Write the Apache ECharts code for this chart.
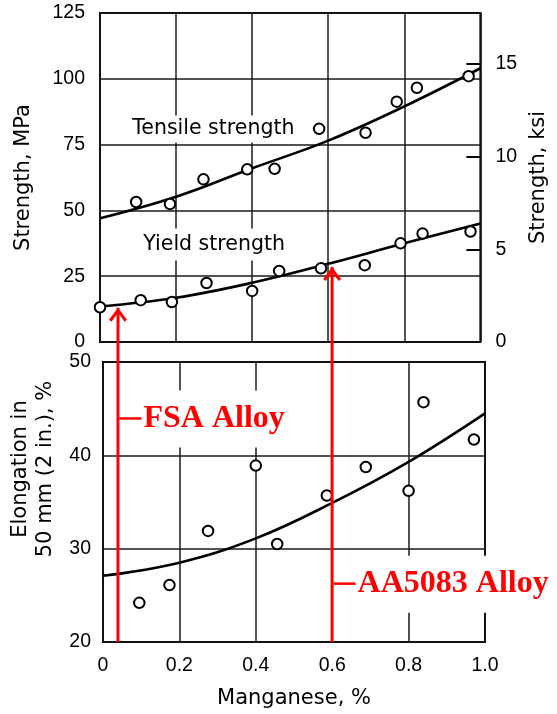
<!DOCTYPE html>
<html>
<head>
<meta charset="utf-8">
<script src="https://cdn.jsdelivr.net/npm/echarts@6/dist/echarts.min.js"></script>
<style>html,body{margin:0;padding:0;background:#fff;}#c{width:557px;height:714px;}</style>
</head>
<body>
<div id="c"></div>
<script>
// ---- data ----
const fitMn       = [0, 0.2, 0.4, 0.6, 0.8, 1.0];
const tensileFit  = [47, 55.2, 66, 76.5, 89.5, 104];
const yieldFit    = [13.5, 16.8, 22.5, 29.7, 37.5, 45];
const elongFit    = [27.1, 28.5, 31.1, 34.9, 39.3, 44.5];

const tensileMn   = [0.095, 0.184, 0.272, 0.387, 0.459, 0.576, 0.698, 0.780, 0.833, 0.969];
const tensileMPa  = [53.2, 52.4, 61.8, 65.6, 65.8, 81, 79.5, 91.3, 96.6, 101];

const yieldMn     = [0.0, 0.107, 0.189, 0.28, 0.40, 0.471, 0.581, 0.696, 0.79, 0.848, 0.974];
const yieldMPa    = [13.2, 15.9, 15.2, 22.4, 19.4, 27, 28, 29.2, 37.5, 41.2, 42];

const elongMn     = [0.095, 0.174, 0.275, 0.40, 0.456, 0.586, 0.688, 0.80, 0.839, 0.971];
const elongPct    = [24.2, 26.1, 31.9, 38.9, 30.5, 35.7, 38.75, 36.2, 45.7, 41.7];

const alloyNames  = ['FSA Alloy', 'AA5083 Alloy'];
const alloyMn     = [0.047, 0.606];
const alloyTipMPa = [13, 28.5];
const alloyLabelLevel = [43.9, 26.2];   // callout height, in elongation %

const curveNames  = ['Tensile strength', 'Yield strength'];
const curveLabelMn  = [0.298, 0.300];
const curveLabelMPa = [80.9, 37.0];

const xTickLabels = ['0', '0.2', '0.4', '0.6', '0.8', '1.0'];
const ksiTicks    = [0, 5, 10, 15];

// ---- chart ----
const TICKFONT = "'Liberation Sans',Arial,sans-serif";
const TXTFONT  = "'DejaVu Sans',sans-serif";
const INK = '#000';
const gridLine = { show: true, lineStyle: { color: '#1a1a1a', width: 1.5 } };
const tickLabel = { color: INK, fontFamily: TICKFONT, fontSize: 19.5 };
const titleStyle = { fontFamily: TXTFONT, fontSize: 21, color: INK };

const zip = (a, b) => a.map((v, i) => [v, b[i]]);

const chart = echarts.init(document.getElementById('c'), null, { renderer: 'canvas' });

const arrowHead = 'path://M9,0 L18,12 L15.5,14 L9,5 L2.5,14 L0,12 Z';
const marker = { color: '#fff', borderColor: INK, borderWidth: 2, opacity: 1 };

const series = [
  { type: 'line', xAxisIndex: 0, yAxisIndex: 0, data: zip(fitMn, tensileFit), smooth: 0.4,
    symbol: 'none', lineStyle: { color: INK, width: 2.6 }, z: 3 },
  { type: 'line', xAxisIndex: 0, yAxisIndex: 0, data: zip(fitMn, yieldFit), smooth: 0.4,
    symbol: 'none', lineStyle: { color: INK, width: 2.6 }, z: 3 },
  { type: 'scatter', xAxisIndex: 0, yAxisIndex: 0, data: zip(tensileMn, tensileMPa), symbol: 'circle',
    symbolSize: 10.5, itemStyle: marker, z: 4 },
  { type: 'scatter', xAxisIndex: 0, yAxisIndex: 0, data: zip(yieldMn, yieldMPa), symbol: 'circle',
    symbolSize: 10.5, itemStyle: marker, z: 4 },
  { type: 'scatter', xAxisIndex: 0, yAxisIndex: 0, symbolSize: 0, silent: true, z: 5,
    itemStyle: { opacity: 1 },
    data: curveNames.map((n, i) => ({ name: n, value: [curveLabelMn[i], curveLabelMPa[i]],
      label: { padding: i === 0 ? [4, 4, 3, 4] : [6, 4, 6, 4] } })),
    label: { show: true, position: 'inside', formatter: p => p.name, color: INK,
      fontFamily: TXTFONT, fontSize: 20.5, lineHeight: 20, backgroundColor: '#fff' } },
  { type: 'line', xAxisIndex: 1, yAxisIndex: 2, data: zip(fitMn, elongFit), smooth: 0.4,
    symbol: 'none', lineStyle: { color: INK, width: 2.6 }, z: 3 },
  { type: 'scatter', xAxisIndex: 1, yAxisIndex: 2, data: zip(elongMn, elongPct), symbol: 'circle',
    symbolSize: 10.5, itemStyle: marker, z: 4 },
  // callout labels (overlay grid, elongation units)
  { type: 'scatter', xAxisIndex: 2, yAxisIndex: 4, symbolSize: 0, silent: true, z: 6,
    itemStyle: { opacity: 1 },
    data: alloyNames.map((n, i) => ({ name: n, value: [alloyMn[i], alloyLabelLevel[i]] })),
    label: { show: true, position: 'right', distance: 1.5, formatter: p => '{d|}{t|' + p.name + '}',
      backgroundColor: '#fff', padding: [11, 5, 12, 0],
      rich: { d: { width: 22, height: 2.5, backgroundColor: '#f00' },
              t: { fontFamily: "'Liberation Serif','Times New Roman',serif", fontWeight: 'bold',
                   fontSize: 32, lineHeight: 34, color: '#f00', padding: [0, 0, 0, 2] } } } }
];
alloyNames.forEach((n, i) => {
  series.push({ type: 'line', xAxisIndex: 2, yAxisIndex: 3, z: 10, silent: true,
    lineStyle: { color: '#f00', width: 3 }, itemStyle: { color: '#f00', opacity: 1 },
    data: [ { value: [alloyMn[i], -114], symbol: 'none' },
            { value: [alloyMn[i], alloyTipMPa[i]], symbol: arrowHead, symbolSize: [18, 14], symbolOffset: [0, 7] } ] });
});

chart.setOption({
  animation: false,
  backgroundColor: '#fff',
  grid: [
    { left: 100, top: 13, width: 383, height: 329, show: true, borderColor: INK, borderWidth: 2, backgroundColor: 'transparent' },
    { left: 102, top: 362, width: 383, height: 280, show: true, borderColor: INK, borderWidth: 2, backgroundColor: 'transparent' },
    { left: 100, top: 13, width: 383, height: 629 }
  ],
  xAxis: [
    { gridIndex: 0, type: 'value', min: 0, max: 1, interval: 0.2, axisLabel: { show: false },
      axisTick: { show: false }, axisLine: { show: false }, splitLine: gridLine },
    { gridIndex: 1, type: 'value', min: 0, max: 1, interval: 0.2,
      axisLabel: Object.assign({ margin: 14, formatter: v => xTickLabels[Math.round(v / 0.2)] }, tickLabel),
      axisTick: { show: false }, axisLine: { show: false }, splitLine: gridLine,
      name: 'Manganese, %', nameLocation: 'middle', nameGap: 46, nameTextStyle: titleStyle },
    { gridIndex: 2, type: 'value', min: 0, max: 1, show: false }
  ],
  yAxis: [
    { gridIndex: 0, type: 'value', min: 0, max: 125, interval: 25,
      axisLabel: Object.assign({ margin: 15 }, tickLabel),
      axisTick: { show: false }, axisLine: { show: false }, splitLine: gridLine,
      name: 'Strength, MPa', nameLocation: 'middle', nameGap: 66, nameTextStyle: titleStyle },
    { gridIndex: 0, type: 'value', position: 'right', min: 0, max: 17.75, interval: 5,
      axisLabel: Object.assign({ margin: 15, customValues: ksiTicks }, tickLabel),
      axisTick: { show: true, inside: true, length: 14, customValues: ksiTicks.slice(1), lineStyle: { color: INK, width: 2 } },
      axisLine: { show: false }, splitLine: { show: false },
      name: 'Strength, ksi', nameLocation: 'middle', nameGap: 43, nameTextStyle: titleStyle },
    { gridIndex: 1, type: 'value', min: 20, max: 50, interval: 10,
      axisLabel: Object.assign({ margin: 12 }, tickLabel),
      axisTick: { show: false }, axisLine: { show: false }, splitLine: gridLine,
      name: 'Elongation in\n50 mm (2 in.), %', nameLocation: 'middle', nameGap: 45,
      nameTextStyle: Object.assign({ lineHeight: 25, padding: [0, 0, 0, 66] }, titleStyle) },
    { gridIndex: 2, type: 'value', min: -114, max: 125, show: false },
    { gridIndex: 2, type: 'value', min: 20, max: 87.4, show: false }
  ],
  series: series
});
</script>
</body>
</html>
